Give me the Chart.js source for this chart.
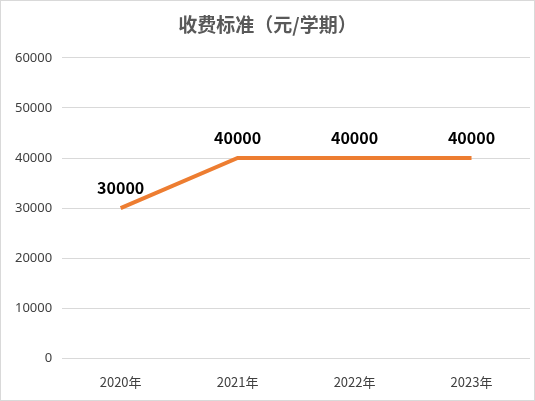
<!DOCTYPE html>
<html>
<head>
<meta charset="utf-8">
<script src="https://cdn.jsdelivr.net/npm/chart.js@4"></script>
<style>
  html, body { margin: 0; padding: 0; background: #fff; }
  #wrap { width: 533px; height: 399px; border: 1px solid #d9d9d9; }
</style>
</head>
<body>
<div id="wrap"><canvas id="chart" width="533" height="399"></canvas></div>
<script>
"use strict";

// Data
const years = ["2020年", "2021年", "2022年", "2023年"];
const fees = [30000, 40000, 40000, 40000];
const yTicks = [0, 10000, 20000, 30000, 40000, 50000, 60000];

// Labels above the points
const labelPlugin = {
    id: "labels",
    afterDatasetsDraw(chart) {
        const ctx = chart.ctx;
        const meta = chart.getDatasetMeta(0);
        ctx.save();
        ctx.font = "bold 16px 'Noto Sans CJK SC', sans-serif";
        ctx.fillStyle = "#000";
        ctx.textAlign = "center";
        ctx.textBaseline = "bottom";
        meta.data.forEach((pt, i) => {
            ctx.fillText(String(fees[i]), pt.x, pt.y - 12);
        });
        ctx.restore();
    }
};

new Chart(document.getElementById("chart"), {
    type: "line",
    data: {
        labels: years,
        datasets: [{
            data: fees,
            borderColor: "#ed7d31",
            borderWidth: 4,
            pointRadius: 0,
            tension: 0
        }]
    },
    options: {
        responsive: false,
        animation: false,
        layout: { padding: { left: 4, right: 4, top: 2, bottom: 2 } },
        plugins: {
            legend: { display: false },
            tooltip: { enabled: false },
            title: {
                display: true,
                text: "收费标准（元/学期）",
                color: "#595959",
                font: { size: 19, weight: "bold", family: "'Noto Sans CJK SC', sans-serif" },
                padding: { top: 10, bottom: 22 }
            }
        },
        scales: {
            x: {
                offset: true,
                grid: { display: false },
                border: { display: false },
                ticks: { color: "#404040", font: { size: 13, family: "'Noto Sans CJK SC', sans-serif" }, padding: 8 }
            },
            y: {
                min: 0,
                max: 60000,
                afterBuildTicks(axis) { axis.ticks = yTicks.map(v => ({ value: v })); },
                grid: { color: "#d9d9d9", drawTicks: false },
                border: { display: false },
                ticks: {
                    color: "#404040",
                    font: { size: 13, family: "'Noto Sans', sans-serif" },
                    padding: 10,
                    callback: v => String(v)
                }
            }
        }
    },
    plugins: [labelPlugin]
});
</script>
</body>
</html>
